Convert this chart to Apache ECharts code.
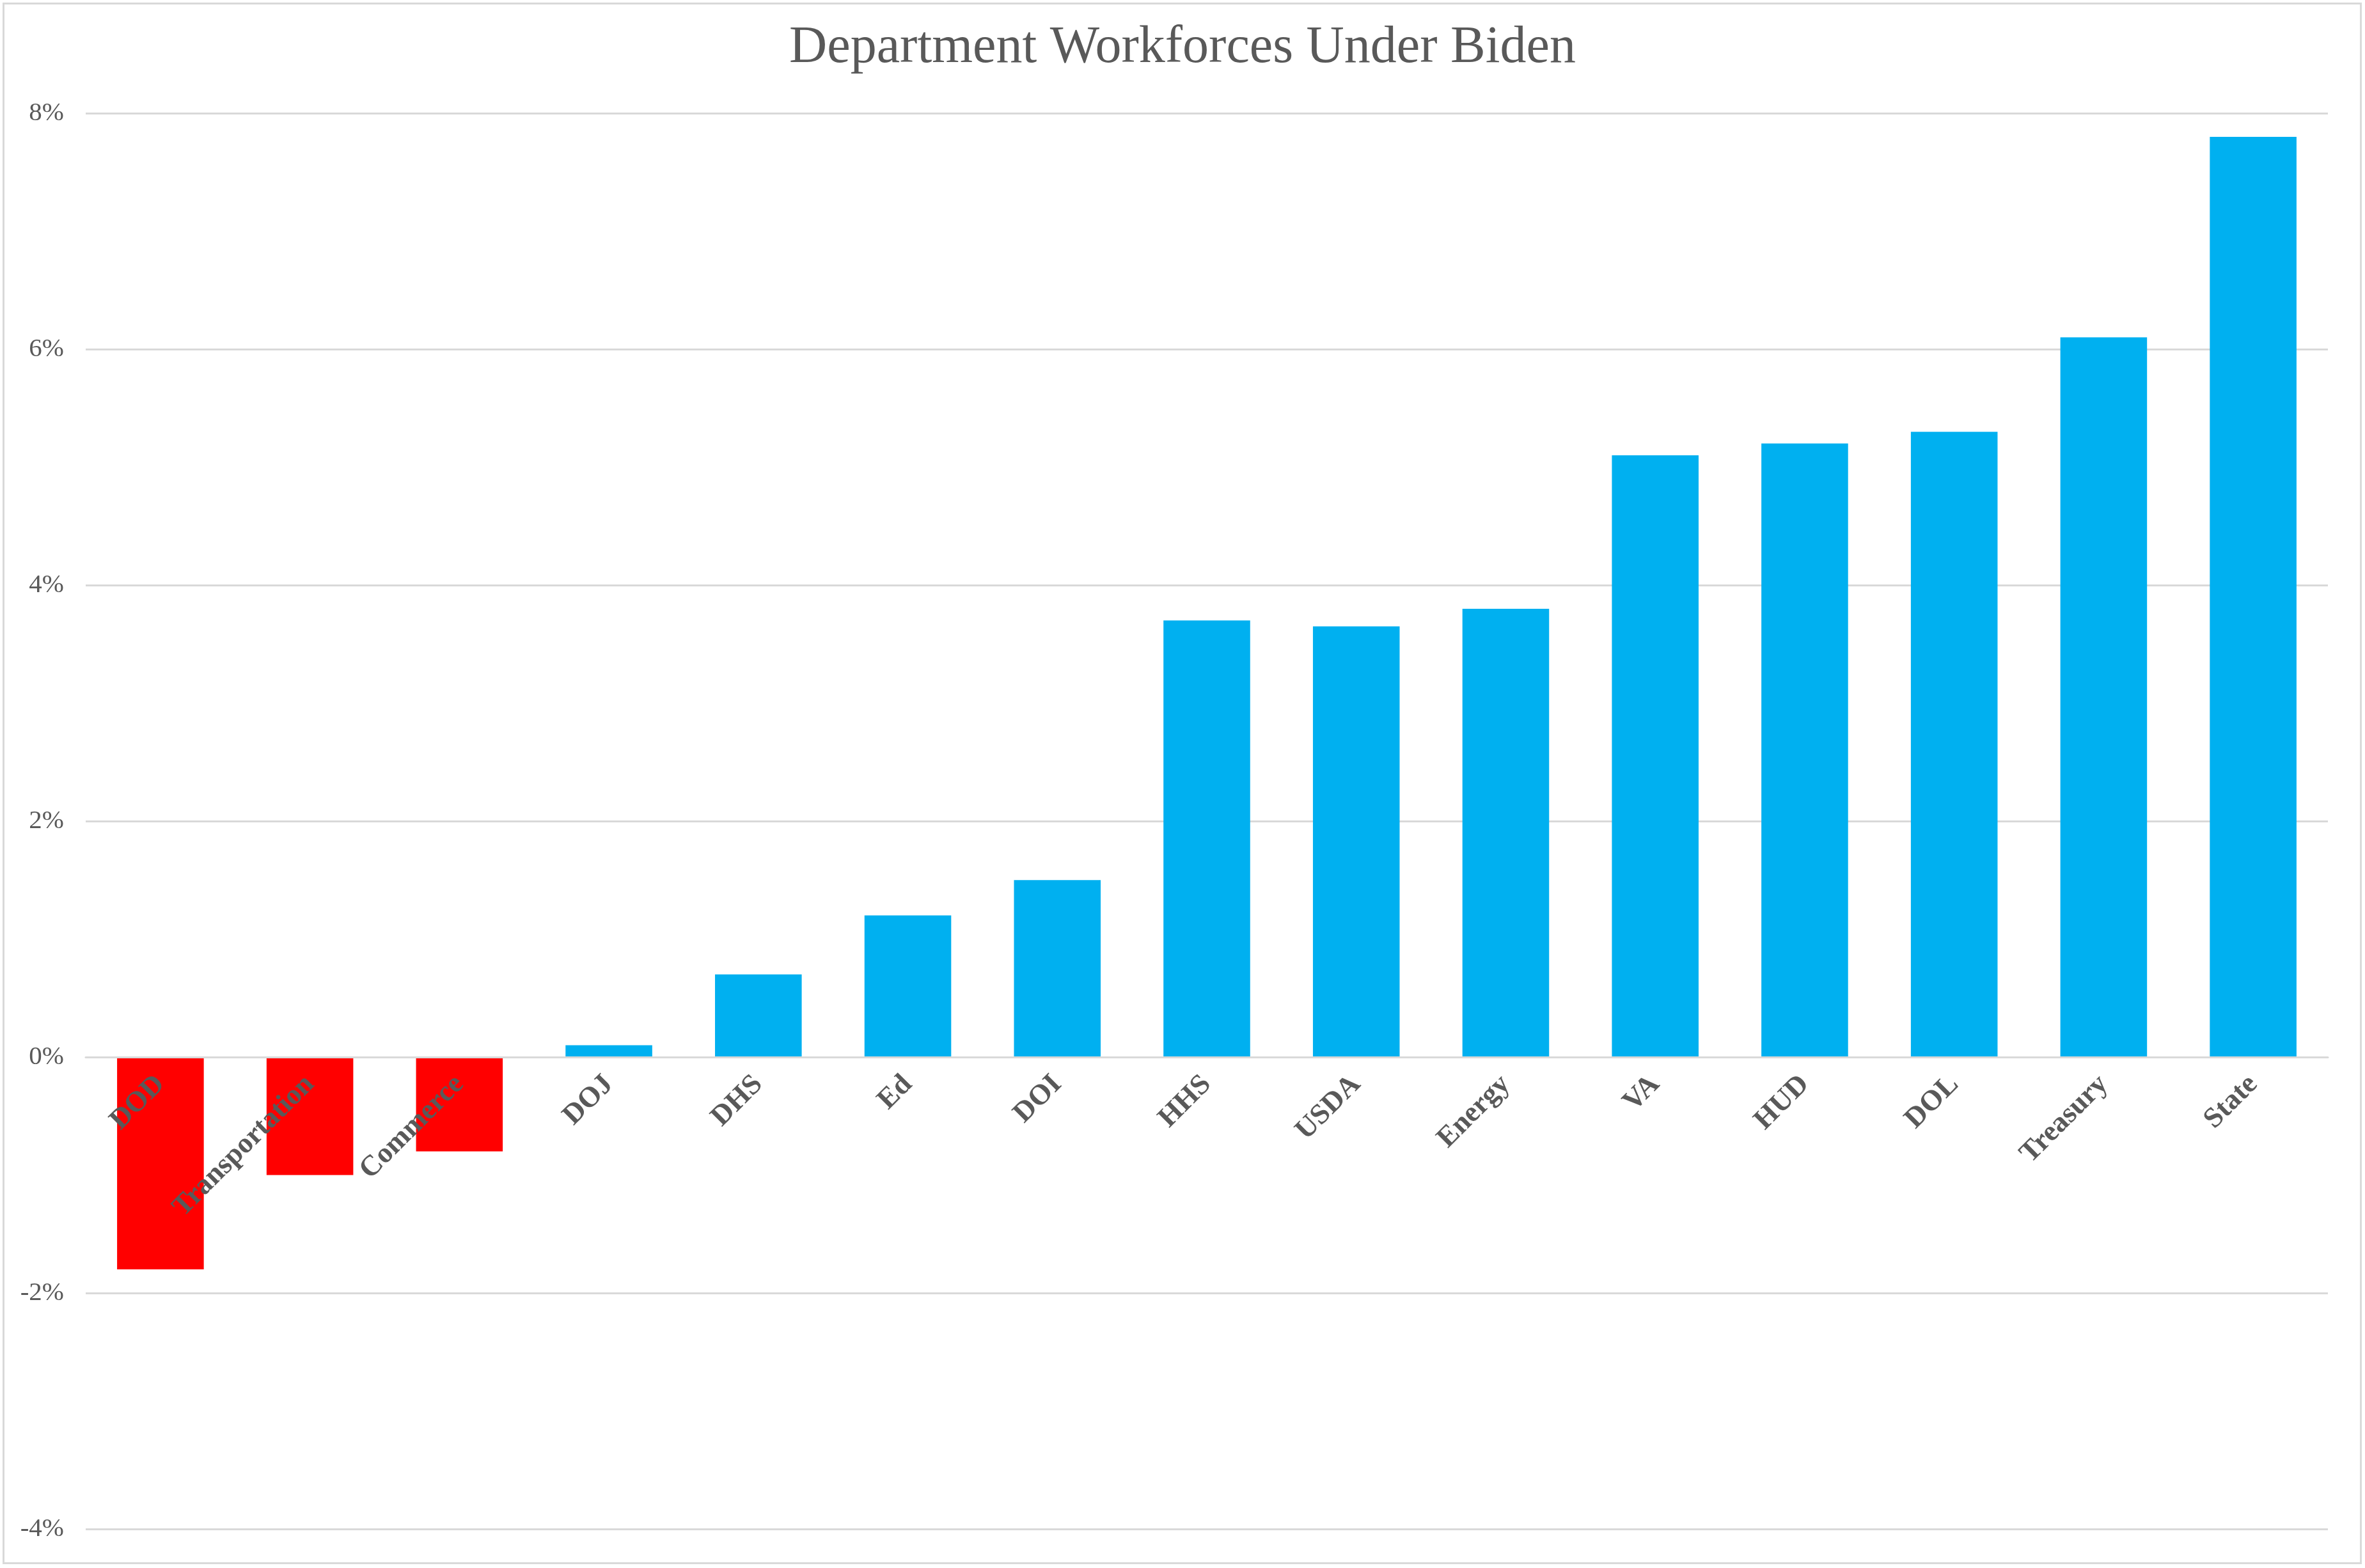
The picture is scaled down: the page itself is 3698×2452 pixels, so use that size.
<!DOCTYPE html>
<html><head><meta charset="utf-8">
<script src="https://cdn.jsdelivr.net/npm/echarts@6/dist/echarts.min.js"></script>
<style>
html,body{margin:0;padding:0;background:#fff;}
#chart{position:absolute;left:0;top:0;width:3698px;height:2452px;}
#frame{position:absolute;left:4px;top:4px;width:3683px;height:2436px;border:3px solid #D9D9D9;pointer-events:none;}
</style></head><body>
<div id="chart"></div><div id="frame"></div>
<script>
const titleText = 'Department Workforces Under Biden';
const categories = ['DOD','Transportation','Commerce','DOJ','DHS','Ed','DOI','HHS','USDA','Energy','VA','HUD','DOL','Treasury','State'];
const changes = [-1.8,-1.0,-0.8,0.1,0.7,1.2,1.5,3.7,3.65,3.8,5.1,5.2,5.3,6.1,7.8];
const yMin = -4, yMax = 8, yStep = 2;
const POS_COLOR = '#00B0F0', NEG_COLOR = '#FF0000';
const FONT = "'Times New Roman', 'Liberation Serif', serif";
const TEXT = '#595959', GRID = '#D9D9D9';

const GRID_TOP = 177, GRID_BOTTOM = 61, H = 2452;
const plotH = H - GRID_TOP - GRID_BOTTOM;
const zeroOffset = (0 - yMin) / (yMax - yMin) * plotH;

const chart = echarts.init(document.getElementById('chart'));
chart.setOption({
  animation: false,
  backgroundColor: '#fff',
  title: {
    text: titleText, left: 'center', top: 34, padding: 0,
    textStyle: { fontFamily: FONT, fontSize: 82, fontWeight: 'normal', color: TEXT }
  },
  grid: { left: 134, right: 58, top: GRID_TOP, bottom: GRID_BOTTOM, containLabel: false, outerBoundsMode: 'none' },
  xAxis: {
    type: 'category', data: categories, z: 5, position: 'bottom', offset: -zeroOffset,
    axisTick: { show: false },
    axisLine: { onZero: false, lineStyle: { color: GRID, width: 3 } },
    axisLabel: { interval: 0, rotate: 45, margin: 36, fontFamily: FONT, fontSize: 45, fontWeight: 'bold', color: TEXT }
  },
  yAxis: {
    type: 'value', min: yMin, max: yMax, interval: yStep,
    axisLine: { show: false }, axisTick: { show: false },
    splitLine: { lineStyle: { color: GRID, width: 3 } },
    axisLabel: { formatter: '{value}%', margin: 34, fontFamily: FONT, fontSize: 41, color: TEXT }
  },
  series: [{
    type: 'bar', barWidth: '58%',
    data: changes.map(v => ({ value: v, itemStyle: { color: v < 0 ? NEG_COLOR : POS_COLOR } }))
  }]
});
</script></body></html>
